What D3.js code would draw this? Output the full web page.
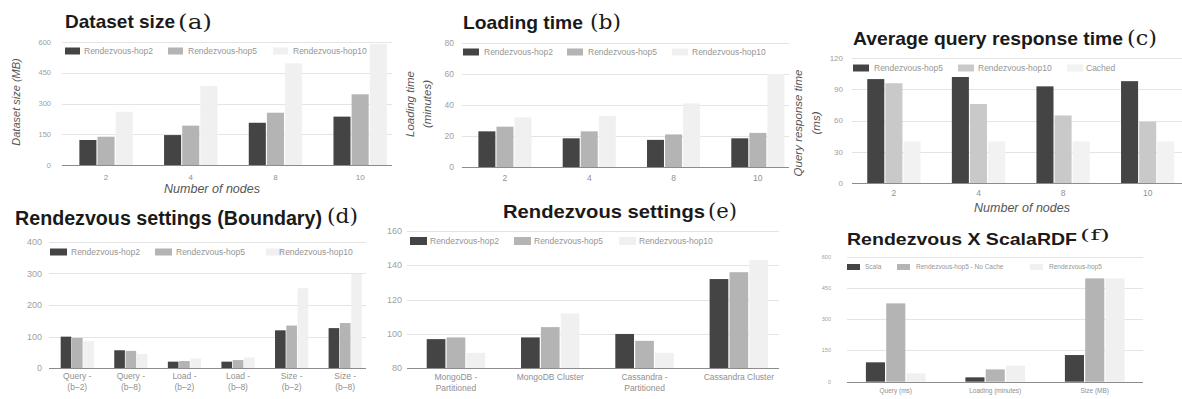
<!DOCTYPE html>
<html>
<head>
<meta charset="utf-8">
<script src="https://cdn.jsdelivr.net/npm/d3@7/dist/d3.min.js"></script>
<style>
  body { margin: 0; background: #fff; }
  svg { display: block; }
</style>
</head>
<body>
<div id="chart"></div>
<script>
// ---- data ----
const nodeCounts = ["2", "4", "8", "10"];
const hopSeries = ["Rendezvous-hop2", "Rendezvous-hop5", "Rendezvous-hop10"];

// (a) dataset size, MB
const sizeHop2 = [122, 146, 206, 236];
const sizeHop5 = [138, 192, 255, 345];
const sizeHop10 = [260, 385, 496, 590];
const sizeTicks = [0, 150, 300, 450, 600];

// (b) loading time, minutes
const loadHop2 = [23, 18.5, 17.5, 18.5];
const loadHop5 = [26, 23, 21, 22];
const loadHop10 = [32, 33, 41, 60];
const loadTicks = [0, 20, 40, 60, 80];

// (c) average query response time, ms
const querySeries = ["Rendezvous-hop5", "Rendezvous-hop10", "Cached"];
const queryHop5 = [100, 102, 93, 98];
const queryHop10 = [96, 76, 65, 59];
const queryCached = [40, 40, 40, 40];
const queryTicks = [0, 30, 60, 90, 120];

// (d) boundary settings
const boundaryCats = ["Query -\n(b–2)", "Query -\n(b–8)", "Load -\n(b–2)", "Load -\n(b–8)", "Size -\n(b–2)", "Size -\n(b–8)"];
const boundaryHop2 = [100, 57, 21, 21, 120, 127];
const boundaryHop5 = [96, 55, 23, 26, 135, 143];
const boundaryHop10 = [86, 45, 31, 34, 253, 298];
const boundaryTicks = [0, 100, 200, 300, 400];

// (e) storage settings
const storageCats = ["MongoDB -\nPartitioned", "MongoDB Cluster", "Cassandra -\nPartitioned", "Cassandra Cluster"];
const storageHop2 = [97, 98, 100, 132];
const storageHop5 = [98, 104, 96, 136];
const storageHop10 = [89, 112, 89, 143];
const storageTicks = [80, 100, 120, 140, 160];

// (f) Rendezvous vs ScalaRDF
const compareCats = ["Query (ms)", "Loading (minutes)", "Size (MB)"];
const compareSeries = ["Scala", "Rendezvous-hop5 - No Cache", "Rendezvous-hop5"];
const compareScala = [93, 21, 128];
const compareNoCache = [376, 59, 496];
const compareHop5 = [40, 77, 496];
const compareTicks = [0, 150, 300, 450, 600];

const grays = ["#444444", "#b4b4b4", "#f0f0f0"];
const graysC = ["#444444", "#c9c9c9", "#f2f2f2"];

const W = 1182, H = 399;
const svg = d3.select("#chart").append("svg").attr("width", W).attr("height", H);
svg.append("rect").attr("width", W).attr("height", H).attr("fill", "#fff");

const sans = "'Liberation Sans', Arial, sans-serif";

function renderPanel(p) {
  const g = svg.append("g");
  const y = d3.scaleLinear().domain(p.yDomain).range([p.bottom, p.top]);
  const x0 = d3.scaleBand().domain(p.categories).range([p.left, p.right]);
  const groupW = x0.bandwidth() * p.barFrac;
  const x1 = d3.scaleBand().domain(p.series).range([0, groupW]).paddingInner(0.06);
  const off = (x0.bandwidth() - groupW) / 2;

  // gridlines
  g.selectAll("line.grid").data(p.ticks.slice(1)).enter().append("line")
    .attr("x1", p.gridLeft).attr("x2", p.gridRight)
    .attr("y1", d => Math.round(y(d)) + 0.5).attr("y2", d => Math.round(y(d)) + 0.5)
    .attr("stroke", "#e4e4e4").attr("stroke-width", 1);

  // bars
  const bars = p.categories.flatMap((c, i) => p.series.map((s, j) => ({ c, s, j, v: p.values[j][i] })));
  g.selectAll("rect.bar").data(bars).enter().append("rect")
    .attr("x", d => x0(d.c) + off + x1(d.s))
    .attr("width", x1.bandwidth())
    .attr("y", d => y(d.v))
    .attr("height", d => y(p.yDomain[0]) - y(d.v))
    .attr("fill", d => p.colors[d.j]);

  // baseline
  g.append("line")
    .attr("x1", p.gridLeft).attr("x2", p.gridRight)
    .attr("y1", Math.round(y(p.yDomain[0])) + 0.5).attr("y2", Math.round(y(p.yDomain[0])) + 0.5)
    .attr("stroke", "#8c8c8c").attr("stroke-width", 1.2);

  // y tick labels
  g.selectAll("text.ytick").data(p.ticks).enter().append("text")
    .attr("x", p.tickX).attr("y", d => y(d) + p.tickSize * 0.35)
    .attr("text-anchor", "end")
    .attr("font-family", sans).attr("font-size", p.tickSize)
    .attr("fill", "#a0a0a0")
    .text(d => d);

  // x category labels
  const xl = g.selectAll("text.xtick").data(p.categories).enter().append("text")
    .attr("text-anchor", "middle")
    .attr("font-family", sans).attr("font-size", p.catSize)
    .attr("fill", "#909090");
  xl.each(function (c) {
    const lines = c.split("\n");
    const t = d3.select(this);
    lines.forEach((ln, k) => {
      t.append("tspan")
        .attr("x", x0(c) + x0.bandwidth() / 2)
        .attr("y", p.catY + k * p.catSize * 1.25)
        .text(ln);
    });
  });

  // legend
  p.series.forEach((s, j) => {
    g.append("rect")
      .attr("x", p.legend.sw[j]).attr("y", p.legend.y - p.legend.h / 2)
      .attr("width", p.legend.w).attr("height", p.legend.h)
      .attr("fill", p.colors[j]);
    g.append("text")
      .attr("x", p.legend.tx[j]).attr("y", p.legend.y + p.legend.size * 0.35)
      .attr("font-family", sans).attr("font-size", p.legend.size)
      .attr("fill", "#959595")
      .text(s);
  });

  // title
  g.append("text")
    .attr("x", p.title.x).attr("y", p.title.y)
    .attr("font-family", sans).attr("font-weight", "bold")
    .attr("font-size", p.title.size).attr("fill", "#1a1a1a")
    .attr("textLength", p.title.len).attr("lengthAdjust", "spacingAndGlyphs")
    .text(p.title.text);
  g.append("text")
    .attr("x", p.title.lx).attr("y", p.title.ly)
    .attr("font-family", "'DejaVu Serif', serif")
    .attr("font-size", p.title.lsize).attr("fill", "#1a1a1a")
    .attr("textLength", p.title.llen).attr("lengthAdjust", "spacingAndGlyphs")
    .text(p.title.letter);

  // axis titles
  if (p.yTitle) {
    p.yTitle.lines.forEach((ln, k) => {
      g.append("text")
        .attr("transform", `translate(${p.yTitle.x + k * p.yTitle.gap},${p.yTitle.cy}) rotate(-90)`)
        .attr("text-anchor", "middle")
        .attr("font-family", sans).attr("font-style", "italic")
        .attr("font-size", p.yTitle.size).attr("fill", "#555")
        .text(ln);
    });
  }
  if (p.xTitle) {
    g.append("text")
      .attr("x", p.xTitle.cx).attr("y", p.xTitle.y)
      .attr("text-anchor", "middle")
      .attr("font-family", sans).attr("font-style", "italic")
      .attr("font-size", p.xTitle.size).attr("fill", "#555")
      .text(p.xTitle.text);
  }
}

// (a)
renderPanel({
  categories: nodeCounts, series: hopSeries, values: [sizeHop2, sizeHop5, sizeHop10], colors: grays,
  yDomain: [0, 600], ticks: sizeTicks, top: 42, bottom: 165,
  left: 63.7, right: 402.5, gridLeft: 62, gridRight: 392, barFrac: 0.63,
  tickX: 51, tickSize: 7.5, catSize: 8, catY: 180,
  legend: { y: 51, w: 15, h: 7, size: 8.5, sw: [65, 168, 273], tx: [84, 188, 293] },
  title: { text: "Dataset size", x: 65, y: 28, size: 19, len: 110, letter: "(a)", lx: 178, ly: 29, lsize: 20, llen: 34 },
  yTitle: { lines: ["Dataset size (MB)"], x: 20, gap: 0, cy: 102, size: 11 },
  xTitle: { text: "Number of nodes", cx: 212, y: 193, size: 12.5 }
});

// (b)
renderPanel({
  categories: nodeCounts, series: hopSeries, values: [loadHop2, loadHop5, loadHop10], colors: grays,
  yDomain: [0, 80], ticks: loadTicks, top: 43, bottom: 167,
  left: 462.8, right: 800, gridLeft: 462, gridRight: 789, barFrac: 0.63,
  tickX: 454, tickSize: 8.5, catSize: 8.5, catY: 181,
  legend: { y: 52, w: 16, h: 7, size: 8.5, sw: [463, 567, 672], tx: [484, 588, 692] },
  title: { text: "Loading time", x: 463, y: 29, size: 19, len: 120, letter: "(b)", lx: 590, ly: 29, lsize: 20, llen: 31 },
  yTitle: { lines: ["Loading time", "(minutes)"], x: 414, gap: 17, cy: 104, size: 11.5 }
});

// (c)
renderPanel({
  categories: nodeCounts, series: querySeries, values: [queryHop5, queryHop10, queryCached], colors: graysC,
  yDomain: [0, 120], ticks: queryTicks, top: 58.3, bottom: 183,
  left: 851.6, right: 1190, gridLeft: 852, gridRight: 1182, barFrac: 0.63,
  tickX: 843, tickSize: 8, catSize: 8.5, catY: 196,
  legend: { y: 68, w: 16, h: 7, size: 8.5, sw: [853, 958, 1067], tx: [874, 978, 1086] },
  title: { text: "Average query response time", x: 853, y: 45, size: 19, len: 270, letter: "(c)", lx: 1127, ly: 45, lsize: 20, llen: 30 },
  yTitle: { lines: ["Query response time", "(ms)"], x: 802, gap: 18, cy: 123, size: 11.5 },
  xTitle: { text: "Number of nodes", cx: 1022, y: 212, size: 12.5 }
});

// (d)
renderPanel({
  categories: boundaryCats, series: hopSeries, values: [boundaryHop2, boundaryHop5, boundaryHop10], colors: grays,
  yDomain: [0, 400], ticks: boundaryTicks, top: 241.7, bottom: 368.3,
  left: 50.5, right: 372, gridLeft: 49, gridRight: 366, barFrac: 0.62,
  tickX: 42, tickSize: 9, catSize: 8.5, catY: 379,
  legend: { y: 252, w: 17, h: 7, size: 8.5, sw: [50, 155, 266], tx: [71, 176, 279] },
  title: { text: "Rendezvous settings (Boundary)", x: 15, y: 225, size: 20, len: 307, letter: "(d)", lx: 327, ly: 223, lsize: 20, llen: 31 }
});

// (e)
renderPanel({
  categories: storageCats, series: hopSeries, values: [storageHop2, storageHop5, storageHop10], colors: grays,
  yDomain: [80, 160], ticks: storageTicks, top: 231, bottom: 368.3,
  left: 408.8, right: 786, gridLeft: 407, gridRight: 779, barFrac: 0.62,
  tickX: 402, tickSize: 9, catSize: 8.5, catY: 380,
  legend: { y: 241, w: 17, h: 8, size: 8.5, sw: [410, 514, 619], tx: [430, 534, 639] },
  title: { text: "Rendezvous settings", x: 503, y: 218, size: 19, len: 202, letter: "(e)", lx: 708, ly: 218, lsize: 20, llen: 29 }
});

// (f)
renderPanel({
  categories: compareCats, series: compareSeries, values: [compareScala, compareNoCache, compareHop5], colors: grays,
  yDomain: [0, 600], ticks: compareTicks, top: 256.7, bottom: 381.7,
  left: 846, right: 1144.5, gridLeft: 847, gridRight: 1143, barFrac: 0.6,
  tickX: 831, tickSize: 5.5, catSize: 6.5, catY: 393,
  legend: { y: 267, w: 13, h: 6, size: 6.5, sw: [847, 897, 1030], tx: [865, 916, 1049] },
  title: { text: "Rendezvous X ScalaRDF", x: 847, y: 245, size: 16.5, len: 230, letter: "(f)", lx: 1080, ly: 240, lsize: 15, llen: 30 }
});
</script>
</body>
</html>
